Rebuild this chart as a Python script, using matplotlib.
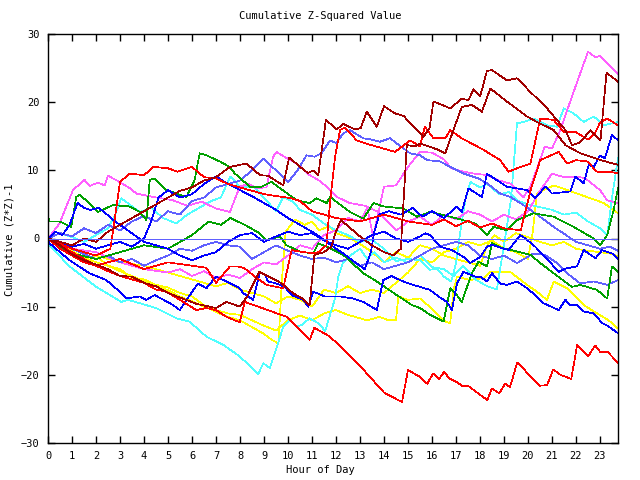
import matplotlib
matplotlib.use('Agg')
import matplotlib.pyplot as plt

# colours of the gnuplot png terminal
RED = '#ff0000'
DKRED = '#a00000'
GREEN = '#00a000'
BLUE = '#0000ff'
SLATE = '#6060ff'
PINK = '#ff60ff'
CYAN = '#50ffff'
YELLOW = '#ffff00'

hour_ticks = list(range(24))
value_ticks = [-30, -20, -10, 0, 10, 20, 30]

# red line that sinks to -24
red_low_h = [0, 0.5, 1, 1.5, 2, 2.5, 3, 3.5, 4, 4.5, 4.93, 5.5, 6.18, 6.6, 7.0, 7.44, 7.99, 8.2, 9.0, 9.95,
             10.9, 11.1, 11.75, 12.9, 14.0, 14.75, 15.0, 15.5, 15.8, 16.05, 16.3, 16.5, 16.75, 17.0, 17.3,
             17.5, 18.3, 18.5, 18.8, 19.05, 19.25, 19.55, 20.5, 20.8, 21.05, 21.35, 21.8, 22.05, 22.5,
             22.8, 23.0, 23.3, 23.75]
red_low_v = [0, -1.5, -2.5, -3.5, -4.0, -4.8, -5.5, -6.0, -6.5, -7.5, -7.8, -9.0, -10.5, -10.2, -10.5, -11.5,
             -12.3, -9.3, -10.3, -11.5, -14.9, -13.1, -14.4, -18.3, -22.6, -24.0, -19.3, -20.3, -21.3, -19.8,
             -20.6, -19.6, -20.6, -21.0, -21.7, -21.6, -23.7, -22.0, -22.7, -21.3, -21.8, -18.2, -21.6, -21.5,
             -19.2, -20.0, -20.6, -15.6, -17.3, -15.7, -16.6, -16.6, -18.2]

# dark red line that ends near 23
dkred_top_h = [0, 0.5, 1, 1.5, 2, 2.5, 3, 3.5, 4, 4.5, 5, 5.5, 6, 6.5, 7, 7.58, 8.27, 8.83, 9.17, 9.8, 10.05,
               10.5, 10.84, 11.05, 11.26, 11.58, 12.03, 12.3, 12.79, 13.03, 13.28, 13.7, 14.0, 14.46, 14.81,
               15.64, 15.9, 16.06, 16.76, 17.24, 17.52, 17.73, 18.01, 18.29, 18.5, 19.12, 19.54, 20.1, 20.79,
               21.56, 21.83, 22.11, 22.32, 22.6, 23.02, 23.27, 23.5, 23.75]
dkred_top_v = [0, -0.5, -1.0, 0.0, -0.5, 1.0, 2.0, 3.0, 4.0, 5.0, 6.0, 7.0, 7.5, 8.5, 9.0, 10.5, 11.0, 9.3,
               9.2, 7.8, 11.9, 10.5, 9.6, 10.0, 9.3, 17.4, 16.0, 16.8, 16.0, 16.2, 18.6, 16.4, 19.4, 18.35,
               18.0, 14.9, 16.2, 20.1, 19.1, 20.5, 20.3, 21.9, 20.9, 24.6, 24.7, 23.2, 23.5, 21.5, 19.1, 15.9,
               13.7, 14.0, 14.7, 15.9, 14.4, 24.3, 23.7, 23.0]

# red line with the jump at hour 12
red_a_h = [0, 1, 2, 3, 4, 5, 6, 6.6, 7.0, 7.58, 7.93, 8.2, 8.55, 8.83, 9.1, 9.52, 9.8, 10.15, 10.64, 11.19,
           11.6, 11.75, 11.96, 12.17, 12.37, 12.86, 13.28, 13.97, 14.46, 15.09, 15.5, 15.7, 16.06, 16.55,
           16.76, 17.24, 18.15, 18.84, 19.19, 19.54, 20.1, 20.51, 21.07, 21.5, 22.0, 22.5, 22.8, 23.0, 23.3,
           23.75]
red_a_v = [0, -2.0, -4.0, -3.0, -4.5, -3.5, -4.0, -4.3, -6.5, -4.1, -4.1, -4.4, -5.4, -6.1, -6.8, -7.1, -7.3,
           -1.7, -2.0, -2.2, -1.0, 5.2, 12.0, 15.9, 16.3, 14.4, 13.9, 13.2, 12.7, 14.4, 13.5, 16.4, 14.7, 14.7,
           15.9, 14.7, 13.0, 11.5, 9.8, 10.3, 11.0, 17.6, 17.4, 15.6, 15.6, 14.5, 15.5, 17.0, 17.6, 16.6]

# red line with the early jump, ends near 10
red_c_h = [0, 0.5, 1, 1.5, 2, 2.6, 3.0, 3.4, 4.0, 4.4, 5.0, 5.4, 6.0, 6.5, 7.0, 7.5, 8.0, 9.0, 10.15, 10.5,
           11.0, 12.0, 13.0, 14.0, 15.0, 16.0, 16.5, 17.0, 17.5, 18.0, 18.5, 19.0, 19.7, 20.1, 20.51, 21.28,
           21.63, 22.0, 22.46, 22.88, 23.3, 23.75]
red_c_v = [0, -0.8, -1.5, -2.0, -2.5, -1.5, 8.3, 9.5, 9.3, 10.5, 10.3, 9.8, 10.5, 9.0, 8.8, 8.0, 7.5, 6.5,
           5.9, 5.5, 4.0, 3.0, 2.5, 3.5, 2.5, 2.0, 2.8, 1.8, 2.6, 1.6, 2.2, 1.5, 1.2, 7.0, 11.5, 12.7, 11.0,
           11.5, 11.3, 9.8, 9.8, 9.6]

# dark red line with the jump near hour 15
dkred_b_h = [0, 0.5, 1, 1.5, 2, 2.5, 3, 3.5, 4, 4.5, 5, 5.6, 6.2, 7.0, 7.44, 7.99, 8.3, 8.8, 9.2, 9.7, 10.2,
             10.6, 10.9, 11.1, 11.5, 11.8, 12.0, 12.2, 12.44, 13.0, 13.5, 14.0, 14.4, 14.7, 14.95, 15.3,
             15.5, 16.27, 16.55, 16.9, 17.24, 17.66, 18.08, 18.43, 19.12, 19.96, 20.37, 21.07, 21.56, 22.18,
             23.02, 23.75]
dkred_b_v = [0, -1.0, -2.3, -3.2, -3.8, -4.5, -5.5, -5.6, -6.5, -7.0, -8.0, -8.8, -9.6, -10.2, -9.3, -10.0,
             -8.5, -4.9, -5.6, -6.5, -8.0, -8.8, -9.8, -2.4, -2.0, -1.2, 1.0, 2.7, 2.0, 0.3, -1.0, -2.0, -2.5,
             -1.5, 13.7, 13.5, 13.95, 13.0, 12.5, 16.0, 19.3, 19.6, 18.6, 22.0, 20.1, 17.9, 17.1, 15.9, 13.7,
             12.5, 11.5, 10.8]

# pink line from the upper left
pink_hi_h = [0, 0.48, 1.04, 1.52, 1.73, 2.08, 2.36, 2.5, 2.98, 3.4, 3.68, 4.37, 5.21, 5.8, 6.4, 7.0, 7.58,
             7.99, 8.34, 8.7, 9.1, 9.38, 9.52, 9.9, 10.36, 10.9, 11.3, 11.61, 12.03, 12.58, 13.2, 13.76,
             14.53, 15.0, 15.5, 16.0, 16.5, 17.0, 17.5, 18.0, 18.5, 19.0, 19.5, 20.0, 20.5, 21.0, 21.5,
             22.05, 22.4, 23.0, 23.3, 23.75]
pink_hi_v = [0, 2.2, 7.1, 8.6, 7.7, 8.2, 7.8, 9.2, 8.3, 7.4, 6.6, 6.1, 5.6, 4.8, 5.4, 4.4, 3.9, 7.6, 8.0,
             7.4, 7.5, 12.0, 12.7, 11.9, 11.0, 9.3, 8.5, 7.6, 6.1, 5.2, 4.8, 3.9, 1.2, 2.5, 3.2, 2.0, 3.5,
             2.8, 4.0, 3.5, 2.5, 3.5, 2.8, 4.0, 7.0, 9.5, 9.0, 9.1, 8.8, 7.1, 5.6, 5.2]

# pink line that climbs to 27 at the end
pink_top_h = [0, 1, 2, 3, 4, 5, 5.5, 6, 6.5, 7, 7.5, 8, 8.5, 9, 9.5, 10, 10.5, 11, 11.5, 12, 12.5, 13, 13.3,
              13.55, 14.0, 14.5, 15.0, 15.5, 16.0, 16.5, 16.8, 17.3, 17.8, 18.3, 18.8, 19.3, 19.8, 20.1, 20.7,
              21.0, 21.3, 21.7, 22.0, 22.5, 22.8, 23.0, 23.75]
pink_top_v = [0, -1.5, -2.0, -3.5, -4.5, -5.0, -4.5, -5.5, -4.8, -5.8, -5.3, -5.8, -4.5, -3.5, -3.8, -2.5,
              -1.0, -1.5, 0.5, 1.2, 3.0, 2.5, 4.5, 0.3, 7.6, 7.8, 10.5, 12.7, 12.6, 11.6, 10.3, 9.8, 9.5, 9.3,
              8.5, 8.0, 6.0, 7.6, 13.5, 13.2, 15.5, 19.5, 22.5, 27.4, 26.6, 26.8, 24.2]

# green line that starts high
green_a_h = [0, 0.06, 0.48, 0.97, 1.18, 1.31, 1.73, 2.08, 2.71, 3.4, 3.82, 4.1, 4.24, 4.44, 4.93, 5.77, 6.11,
             6.32, 6.6, 7.16, 7.57, 7.78, 8.41, 8.83, 9.31, 10.36, 10.91, 11.19, 11.61, 11.75, 12.58, 13.14,
             13.56, 13.97, 14.81, 15.37, 15.92, 16.76, 17.8, 18.29, 18.56, 19.12, 19.54, 20.23, 21.07, 21.9,
             22.74, 23.0, 23.3, 23.57, 23.75]
green_a_v = [3.2, 2.5, 2.5, 1.7, 6.1, 6.4, 5.2, 3.9, 4.9, 4.7, 3.9, 2.7, 8.6, 8.8, 7.1, 6.1, 8.6, 12.5, 12.2,
             11.3, 10.5, 9.55, 7.6, 7.5, 8.3, 5.6, 5.2, 5.9, 5.2, 6.1, 3.9, 2.9, 5.2, 4.7, 4.4, 3.2, 3.9, 3.2,
             2.2, 0.5, 1.7, 1.2, 2.7, 3.7, 3.2, 1.7, 0.0, -1.0, 0.5, 4.2, 7.4]

# green line that ends near -5
green_b_h = [0, 0.5, 1, 2, 3, 4, 5, 6, 6.7, 7.2, 7.6, 8.2, 8.8, 9.1, 9.66, 9.94, 10.5, 11.05, 11.26, 11.61,
             12.3, 13.14, 13.7, 14.53, 15.16, 15.5, 15.92, 16.48, 16.76, 16.97, 17.24, 17.66, 17.94, 18.29,
             18.5, 18.91, 19.54, 20.1, 20.51, 21.07, 21.83, 22.18, 22.88, 23.3, 23.5, 23.75]
green_b_v = [0, -1.4, -2.2, -3.0, -2.0, -1.0, -1.5, 0.5, 2.5, 2.0, 3.0, 2.0, 0.8, -0.2, 0.3, -1.0, -1.9, -2.2,
             -0.7, -1.2, -2.4, -5.1, -6.3, -8.3, -9.75, -10.2, -11.2, -12.2, -7.3, -8.0, -9.3, -5.1, -3.4,
             -4.1, -0.7, -1.4, -1.9, -2.4, -3.6, -5.1, -7.1, -6.8, -7.55, -8.8, -4.1, -4.9]

# blue line that ends near 14
blue_up_h = [0, 0.5, 1, 1.5, 2, 2.5, 3, 3.5, 4.0, 4.3, 4.6, 5.0, 5.5, 6.0, 6.5, 7.0, 7.5, 8.0, 8.5, 9.0, 9.5,
             10.0, 10.5, 11.0, 11.3, 11.8, 12.3, 12.8, 13.2, 13.45, 13.6, 13.8, 14.2, 14.7, 15.2, 15.6, 16.0,
             16.5, 17.03, 17.24, 17.52, 18.08, 18.29, 19.12, 19.96, 20.3, 20.72, 21.0, 21.77, 21.97, 22.32,
             22.53, 22.74, 23.0, 23.2, 23.5, 23.75]
blue_up_v = [0, -0.5, -1.2, -0.8, -1.5, -1.0, -0.5, -1.2, 0.0, 2.5, 6.0, 7.1, 6.0, 6.5, 8.0, 9.1, 8.0, 7.1,
             6.2, 5.2, 4.2, 3.0, 2.0, 1.0, 0.3, -1.0, -2.2, -3.5, -4.5, -2.0, 1.0, 3.5, 4.0, 3.5, 4.5, 3.2,
             4.0, 3.0, 4.7, 3.9, 7.35, 6.1, 9.5, 7.6, 7.1, 5.9, 7.6, 6.6, 6.9, 9.1, 8.1, 10.8, 10.5, 12.2,
             11.75, 15.2, 14.4]

# blue line that ends near -3
blue_mid_h = [0, 0.3, 0.6, 0.9, 1.23, 1.5, 1.77, 2.1, 2.4, 2.8, 3.2, 3.6, 4.0, 4.5, 5.0, 5.5, 6.0, 6.5, 7.0,
              7.5, 8.0, 8.5, 9.0, 9.5, 10.0, 10.5, 11.0, 11.5, 12.0, 12.5, 13.0, 13.5, 14.0, 14.5, 15.0,
              15.5, 15.71, 15.92, 16.34, 16.83, 17.31, 17.59, 18.01, 18.29, 18.5, 18.91, 19.19, 19.68,
              19.89, 20.3, 20.72, 21.28, 21.56, 22.04, 22.32, 22.81, 23.09, 23.5, 23.75]
blue_mid_v = [0, 1.0, 0.5, 2.0, 5.2, 4.5, 4.2, 4.5, 3.7, 2.5, 1.5, 0.5, -0.5, -1.0, -1.5, -2.5, -3.2, -2.5,
              -2.0, -0.5, 0.5, 0.8, -0.5, 0.3, 1.0, 0.5, 0.8, -0.3, -1.0, -1.5, -0.5, 0.5, 1.0, 0.0, -0.5,
              0.3, 0.76, 0.5, -1.2, -1.7, -2.7, -3.6, -2.7, -1.2, -0.95, -1.4, -1.7, 0.5, 0.0, -1.2, -2.7,
              -4.9, -4.4, -4.1, -1.7, -2.9, -1.7, -2.2, -3.05]

# blue line that ends near -14
blue_low_h = [0, 0.06, 0.9, 1.73, 2.43, 3.05, 3.26, 3.82, 4.1, 4.44, 5.21, 5.49, 5.77, 6.25, 6.6, 7.0, 7.44,
              7.99, 8.13, 8.55, 8.83, 9.04, 9.17, 9.52, 9.87, 10.15, 10.64, 10.84, 11.05, 11.54, 12.17, 12.72,
              13.14, 13.7, 13.97, 14.3, 14.8, 15.2, 15.5, 15.92, 16.27, 16.62, 16.83, 17.04, 17.31, 17.8,
              18.01, 18.29, 18.5, 18.84, 19.12, 19.54, 19.96, 20.3, 20.65, 21.28, 21.56, 21.76, 22.04, 22.32,
              22.74, 23.09, 23.36, 23.75]
blue_low_v = [0, -0.7, -3.2, -5.1, -6.1, -8.0, -8.8, -8.5, -9.0, -8.3, -9.75, -10.5, -9.0, -6.6, -7.3, -5.6,
              -6.3, -7.3, -8.0, -9.0, -4.9, -5.35, -6.3, -6.6, -7.1, -8.3, -9.0, -10.0, -7.8, -8.5, -8.5, -8.8,
              -9.3, -10.5, -6.1, -5.5, -6.3, -6.8, -7.1, -7.55, -8.5, -9.3, -10.5, -6.6, -4.9, -5.6, -5.6,
              -6.3, -5.1, -6.6, -6.8, -6.3, -7.3, -8.3, -9.5, -10.5, -9.0, -9.75, -9.75, -10.7, -11.0, -12.4,
              -12.9, -13.9]

# slate blue line over the top half
slate_up_h = [0, 0.5, 1, 1.5, 2, 2.5, 3, 3.5, 4, 4.5, 5, 5.5, 6, 6.5, 7, 7.5, 8, 8.5, 8.97, 9.5, 10.01, 10.4,
              10.77, 11.1, 11.4, 11.75, 12.0, 12.3, 12.58, 13.14, 13.5, 13.83, 14.25, 14.7, 15.09, 15.5, 15.8,
              16.34, 16.76, 17.3, 17.94, 18.29, 18.84, 19.26, 19.68, 20.1, 20.5, 21.07, 21.5, 22.0, 22.5,
              23.0, 23.4, 23.75]
slate_up_v = [0, 0.8, 0.3, 1.5, 0.8, 2.0, 1.2, 2.5, 3.3, 2.5, 4.0, 3.5, 5.5, 6.0, 7.5, 8.0, 8.5, 10.0, 11.7,
              10.0, 8.3, 10.0, 12.2, 12.0, 12.5, 14.4, 14.0, 15.4, 15.9, 14.7, 14.5, 14.2, 14.7, 13.5, 12.5,
              12.2, 11.5, 11.3, 10.5, 9.55, 8.8, 8.1, 6.6, 6.1, 5.2, 4.2, 3.2, 1.7, 0.7, -0.5, -1.0, -1.5,
              -1.2, -1.8]

# slate blue line that ends near -6
slate_low_h = [0, 0.5, 1, 1.5, 2, 2.5, 3, 3.5, 4, 4.5, 5, 5.5, 6, 6.5, 7, 7.5, 8, 8.5, 9, 9.5, 10, 10.5, 11,
               11.5, 12, 12.5, 13, 13.5, 14, 14.5, 15, 15.5, 16, 16.5, 17, 17.5, 18, 18.5, 19.0, 19.54, 20.23,
               20.7, 21.21, 21.63, 22.18, 22.74, 23.3, 23.75]
slate_low_v = [0, -0.8, -1.5, -2.3, -3.0, -2.5, -3.5, -3.0, -4.0, -3.2, -2.5, -1.5, -1.8, -1.0, -0.5, -1.0,
               -1.2, -3.0, -2.0, -1.0, -1.8, -2.5, -3.0, -2.8, -3.5, -3.0, -4.0, -3.5, -4.5, -4.0, -3.5, -2.5,
               -1.5, -1.0, -0.5, -1.0, -2.5, -3.0, -2.5, -3.6, -2.2, -2.4, -3.6, -5.1, -6.6, -6.3, -6.8, -6.1]

# cyan line that drops to -20 and later climbs to 17
cyan_low_h = [0, 0.06, 0.9, 2.01, 3.05, 3.33, 4.51, 5.35, 5.9, 6.6, 7.3, 7.99, 8.76, 8.97, 9.24, 9.45, 9.8,
              10.08, 10.36, 10.57, 10.9, 11.3, 11.55, 11.75, 11.96, 12.1, 12.3, 12.6, 13.0, 13.3, 13.6, 14.0,
              14.5, 15.0, 15.5, 16.0, 16.5, 16.9, 17.3, 17.8, 18.3, 18.7, 19.0, 19.3, 19.54, 19.82, 20.23,
              20.79, 21.21, 21.49, 21.9, 22.32, 22.74, 23.16, 23.75]
cyan_low_v = [0, -1.0, -4.1, -7.1, -9.3, -9.0, -10.2, -11.7, -12.2, -14.4, -15.6, -17.3, -19.9, -18.3, -19.0,
              -16.8, -13.0, -12.0, -12.9, -12.7, -11.7, -12.5, -13.6, -11.2, -8.8, -5.5, -3.5, -2.5, -1.5,
              -3.0, -2.0, -3.5, -2.8, -3.5, -2.5, -4.2, -4.5, -5.5, -4.0, -6.0, -7.0, -7.5, -1.0, 6.0, 16.9,
              17.1, 17.6, 16.6, 16.4, 19.1, 18.35, 17.1, 17.9, 16.6, 17.1]

# cyan line in the middle that shoots up at the end
cyan_mid_h = [0, 0.5, 1, 1.5, 2, 2.5, 2.8, 3.05, 3.4, 3.82, 4.3, 4.8, 5.35, 5.8, 6.3, 6.8, 7.2, 7.6, 8.0, 8.6,
              9.2, 9.5, 9.8, 10.2, 10.5, 11.0, 11.5, 12.0, 12.5, 13.0, 13.5, 14.0, 14.5, 15.0, 15.5, 15.9,
              16.2, 16.5, 16.8, 17.0, 17.2, 17.4, 17.6, 18.0, 18.3, 18.8, 19.2, 19.6, 20.0, 20.5, 21.0, 21.5,
              22.0, 22.5, 23.0, 23.3, 23.5, 23.75]
cyan_mid_v = [0, 0.8, 0.2, -0.5, 0.5, 1.5, 3.5, 5.9, 5.0, 3.9, 4.5, 3.0, 2.2, 3.5, 4.5, 5.5, 6.0, 9.1, 7.6,
              7.5, 5.2, 4.0, 6.1, 5.4, 4.2, 3.5, 2.2, 1.2, 0.5, -0.5, -0.2, -1.5, -3.3, -3.0, -3.2, -4.6, -4.4,
              -5.6, -6.3, -3.6, 1.5, 5.8, 8.3, 7.5, 8.0, 6.5, 6.8, 5.5, 5.0, 4.6, 4.2, 3.5, 3.8, 2.5, 1.5,
              0.5, 6.0, 11.8]

# yellow line that ends near -13
yellow_a_h = [0, 0.5, 1, 1.5, 2, 2.5, 3, 3.5, 4, 4.5, 5, 5.5, 6, 6.5, 7, 7.5, 8, 8.5, 9, 9.5, 10, 10.5, 11,
              11.5, 12, 12.5, 13.3, 13.8, 14.2, 14.5, 14.6, 15.0, 15.5, 16.06, 16.55, 16.76, 16.9, 17.04,
              17.59, 18.15, 18.43, 19.26, 19.96, 20.37, 20.79, 21.07, 21.63, 22.32, 22.88, 23.36, 23.75]
yellow_a_v = [0, -1.2, -2.0, -3.0, -2.5, -4.0, -4.8, -5.5, -6.2, -7.0, -7.6, -8.5, -9.2, -10.0, -10.5, -11.0,
              -11.2, -12.0, -12.8, -13.5, -12.0, -11.3, -12.0, -11.0, -10.5, -11.2, -12.0, -11.5, -12.0,
              -12.0, -8.5, -9.0, -8.8, -10.5, -12.2, -12.4, -7.55, -5.6, -6.1, -5.8, -4.9, -4.9, -6.8, -7.8,
              -9.0, -6.3, -7.3, -9.75, -11.0, -12.0, -13.2]

# yellow line that ends near 4
yellow_b_h = [0, 1, 2, 3, 4, 5, 6, 7, 7.5, 8, 8.5, 9, 9.5, 10, 10.5, 11, 11.5, 12, 12.5, 13, 13.5, 14, 14.5,
              15, 15.5, 16, 16.5, 17, 17.5, 18, 18.5, 19, 19.5, 20.0, 20.2, 20.37, 21.07, 22.04, 23.16, 23.75]
yellow_b_v = [0, -1.5, -2.5, -3.5, -4.0, -5.0, -6.0, -7.0, -6.5, -7.5, -8.0, -8.5, -9.5, -8.5, -9.0, -10.0,
              -7.5, -8.0, -7.0, -8.0, -7.5, -8.0, -6.5, -5.0, -3.0, -3.5, -2.0, -1.5, -0.5, -1.0, -0.3, -1.5,
              -2.0, -3.0, 1.0, 6.6, 7.8, 6.6, 5.2, 3.7]

# yellow line that jumps up near hour 10
yellow_c_h = [0, 0.5, 1, 1.5, 2, 2.5, 3, 3.5, 4, 4.5, 5, 5.5, 6, 6.5, 7, 7.5, 8, 8.5, 9.0, 9.3, 9.6, 9.75,
              9.9, 10.3, 10.7, 11.0, 11.3, 11.7, 12.0, 12.5, 13, 13.5, 14, 14.5, 15, 15.5, 16.0, 16.5, 17.0,
              17.5, 18.0, 18.3, 18.6, 19, 19.5, 20, 20.5, 21, 21.5, 22.0, 22.5, 23.0, 23.4, 23.75]
yellow_c_v = [0, -0.8, -1.8, -2.8, -3.5, -4.0, -4.5, -5.8, -6.0, -6.8, -7.2, -8.0, -8.5, -9.8, -10.8, -11.5,
              -12.0, -13.0, -14.0, -14.8, -15.4, -6.0, 1.0, 2.8, 2.0, 2.5, 1.2, 1.8, 0.8, 0.2, -0.8, -2.0,
              -3.5, -2.0, -2.8, -1.0, -1.5, -2.5, -3.0, -3.5, -4.0, -1.0, 0.5, -0.5, 0.8, 0.2, -0.5, -1.0,
              -0.5, -1.5, -1.8, -2.0, -2.2, -2.6]

# flat reference line
zero_h = [0, 23.75]
zero_v = [0, 0]

series = [
    (yellow_a_h, yellow_a_v, YELLOW),
    (yellow_b_h, yellow_b_v, YELLOW),
    (yellow_c_h, yellow_c_v, YELLOW),
    (cyan_low_h, cyan_low_v, CYAN),
    (cyan_mid_h, cyan_mid_v, CYAN),
    (pink_hi_h, pink_hi_v, PINK),
    (pink_top_h, pink_top_v, PINK),
    (slate_up_h, slate_up_v, SLATE),
    (slate_low_h, slate_low_v, SLATE),
    (green_a_h, green_a_v, GREEN),
    (green_b_h, green_b_v, GREEN),
    (blue_up_h, blue_up_v, BLUE),
    (blue_mid_h, blue_mid_v, BLUE),
    (blue_low_h, blue_low_v, BLUE),
    (red_c_h, red_c_v, RED),
    (red_a_h, red_a_v, RED),
    (red_low_h, red_low_v, RED),
    (dkred_b_h, dkred_b_v, DKRED),
    (dkred_top_h, dkred_top_v, DKRED),
    (zero_h, zero_v, SLATE),
]

plt.rcParams['font.family'] = ['DejaVu Sans Mono']

fig = plt.figure(figsize=(6.4, 4.8), dpi=100)
ax = fig.add_axes([48 / 640, 37 / 480, 570 / 640, 409 / 480])

for h, v, c in series:
    ax.plot(h, v, color=c, linewidth=0.5, antialiased=False)

ax.set_xlim(0, 23.75)
ax.set_ylim(-30, 30)
ax.set_xticks(hour_ticks)
ax.set_xticklabels([str(t) for t in hour_ticks])
ax.set_yticks(value_ticks)
ax.tick_params(direction='in', top=True, right=True, length=5, width=1, labelsize=7.5, pad=6)
for s in ax.spines.values():
    s.set_linewidth(1.0)

fig.text(0.5, 1 - 16 / 480, 'Cumulative Z-Squared Value', ha='center', va='center', fontsize=7.5)
fig.text(0.5, 1 - 470 / 480, 'Hour of Day', ha='center', va='center', fontsize=7.5)
fig.text(10 / 640, 0.5, 'Cumulative (Z*Z)-1', ha='center', va='center', rotation=90, fontsize=7.5)

fig.savefig('out.png', dpi=100)
